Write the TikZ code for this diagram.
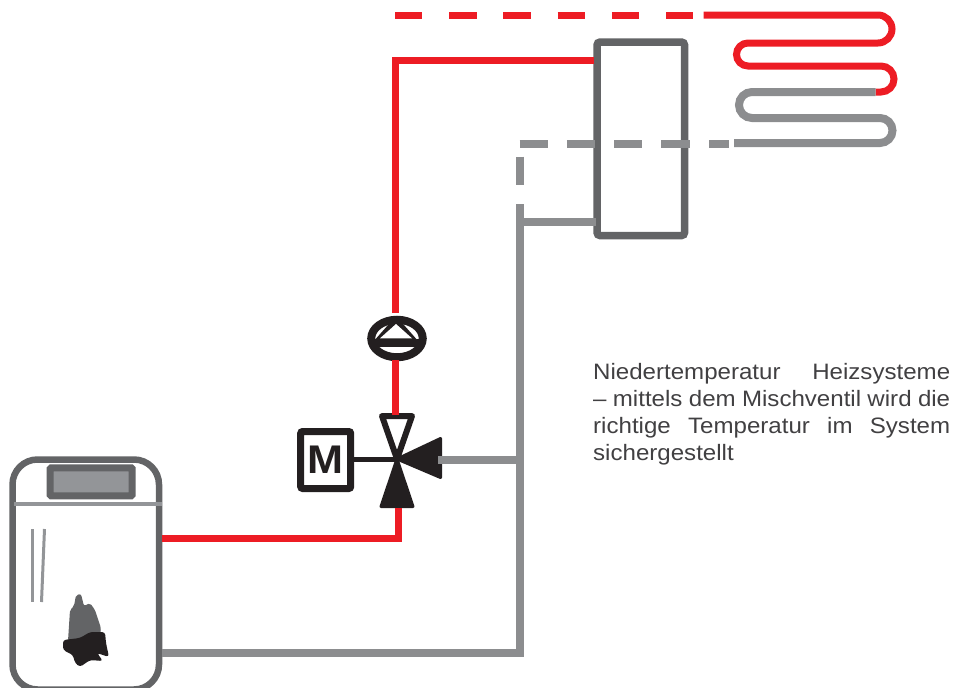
\documentclass[tikz,border=0pt]{standalone}
\usepackage{fontspec}
\setmainfont[FakeStretch=1.08, WordSpace=0.8]{Liberation Sans}
\usetikzlibrary{positioning, calc, shapes.geometric}
\definecolor{pipered}{HTML}{ED1C24}
\definecolor{pipegray}{HTML}{8C8D8F}
\definecolor{casegray}{HTML}{636466}
\definecolor{softgray}{HTML}{939598}
\definecolor{symblack}{HTML}{231F20}
\definecolor{textgray}{HTML}{414042}

\begin{document}
\begin{tikzpicture}[
        x=1pt, y=-1pt,
        hot/.style={draw=pipered, line width=7pt},
        cold/.style={draw=pipegray, line width=8pt},
        hotdash/.style={hot, dash pattern=on 27.3pt off 26.9pt},
        colddash/.style={cold, dash pattern=on 28.3pt off 19pt},
        casing/.style={draw=casegray, line width=7.5pt, rounded corners=3pt},
        symbol/.style={draw=symblack, line width=7pt, rounded corners=2pt},
        valvetip/.style={fill=symblack, draw=symblack, line width=3pt, line join=round}
    ]
\useasboundingbox (0,0) rectangle (954,688);

% Boiler
\node[draw=casegray, line width=6.5pt, rounded corners=25pt, minimum width=146.5pt, minimum height=230pt,
      inner sep=0pt] (boiler) at (85.75,574.5) {};
\draw[softgray, line width=3.5pt] (14,504) -- (162,504);
\node[draw=casegray, fill=softgray, line width=7pt, rounded corners=1pt, minimum width=82pt, minimum height=28pt,
      inner sep=0pt] (display) at (91.2,481.8) {};
\draw[softgray, line width=3pt] (32.5,529) -- (32.5,602);
\draw[softgray, line width=3pt] (44.5,529) -- (41.5,602);
% Flame
\fill[casegray, rounded corners=2pt] (68,641) -- (70,610) -- (74,606) -- (76,595) -- (81,594) -- (84,606)
    -- (90,603) -- (95,610) -- (101,628) -- (100,636) -- (80,642) -- cycle;
\fill[symblack, rounded corners=3pt] (63,640) -- (80,638) -- (90,632) -- (105,632) -- (106,643) -- (109,657)
    -- (97,653) -- (103,661) -- (90,660) -- (80,667) -- (75,663) -- (73,655) -- (63,650) -- cycle;

% Buffer tank
\node[casing, minimum width=87.5pt, minimum height=193.5pt, inner sep=0pt] (tank) at (640.8,138.8) {};

% Mixing valve
\coordinate (valve) at (397,459);
\node[symbol, minimum width=50pt, minimum height=57pt, inner sep=0pt] (motor) at (325.7,460)
    {\fontsize{40}{40}\selectfont\bfseries\textcolor{symblack}{M}};
\draw[symblack, line width=5pt] (motor.east |- valve) -- (valve);
\draw[draw=symblack, fill=white, line width=6pt, line join=round] (382,416) -- (412,416) -- (valve) -- cycle;
\path[valvetip] (381,506.5) -- (413,506.5) -- (valve) -- cycle;
\path[valvetip] (440.5,438.5) -- (440.5,477.5) -- (valve) -- cycle;
\coordinate (valveT) at (395.5,415);
\coordinate (valveB) at (398,507.5);
\coordinate (valveR) at (438,459.5);

% Pump
\node[draw=symblack, fill=white, line width=8pt, ellipse, minimum width=51.5pt, minimum height=37.5pt,
      inner sep=0pt] (pump) at (397,338.5) {};
\draw[symblack, line width=8pt] (372,342.5) -- (422,342.5);
\fill[symblack] (396,316) -- (373,342) -- (419,342) -- cycle;
\fill[white] (396,324) -- (380,338.3) -- (412,338.3) -- cycle;

% Red supply
\coordinate (tankL1) at (594,60);
\coordinate (boilerR1) at (boiler.east |- 0,538);
\coordinate (pumpT) at (395.5,313);
\coordinate (pumpB) at (395.5,360);
\draw[hot] (boilerR1) -- (398,538) -- (valveB);
\draw[hot] (pumpB) -- (valveT);
\draw[hot] (pumpT) -- (395.5,60) -- (tankL1);
\coordinate (dashA) at (395,15);
\coordinate (dashB) at (693.5,15);
\draw[hotdash] (dashA) -- (dashB);

% Floor loop
\draw[hot] (703.5,15) -- (878,15) arc[start angle=-90, end angle=90, radius=14] -- (748,43)
    arc[start angle=-90, end angle=-270, radius=11.5] -- (881,66)
    arc[start angle=-90, end angle=90, radius=13] -- (875.5,92);
\draw[cold] (875.5,92) -- (752,92)
    arc[start angle=-90, end angle=-270, radius=13] -- (880,118)
    arc[start angle=-90, end angle=90, radius=12.5] -- (734,143);

% Gray return
\coordinate (boilerR2) at (boiler.east |- 0,653);
\coordinate (tee) at (520,459.5);
\coordinate (teeUp) at (520,222);
\coordinate (tankL2) at (596,222);
\draw[cold] (boilerR2) -- (520,653) -- (teeUp) -- (tankL2);
\draw[cold] (valveR) -- (tee);
\draw[cold] (520,156.5) -- (520,184.5);
\draw[cold] (520,204) -- (520,218);
\coordinate (dashC) at (519.5,143.5);
\coordinate (dashD) at (690,143.5);
\draw[colddash] (dashC) -- (dashD);
\draw[cold] (709,143.5) -- (729,143.5);

% Caption
\node[anchor=north west, inner sep=0pt, text width=357pt, align=justify, text=textgray,
      font=\fontsize{22.3}{27}\selectfont] (caption) at (593,363)
    {Niedertemperatur Heizsysteme\linebreak[4] – mittels dem Mischventil wird die\linebreak[4] richtige Temperatur im System\linebreak[4] sichergestellt};
\end{tikzpicture}
\end{document}
